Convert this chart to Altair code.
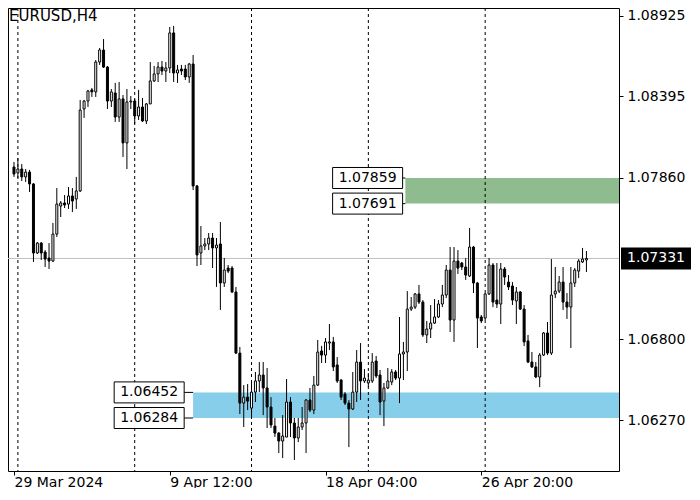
import altair as alt
import pandas as pd

# ---------------- data (EURUSD, H4 candles) ----------------
opens = [1.07931, 1.07892, 1.07918, 1.07866, 1.07898, 1.07820, 1.07367, 1.07432, 1.07373, 1.07334,
         1.07314, 1.07491, 1.07675, 1.07695, 1.07688, 1.07741, 1.07721, 1.07774, 1.08312, 1.08364,
         1.08437, 1.08424, 1.08620, 1.08699, 1.08587, 1.08364, 1.08417, 1.08259, 1.08378, 1.08089,
         1.08358, 1.08364, 1.08266, 1.08325, 1.08233, 1.08345, 1.08496, 1.08542, 1.08587, 1.08561,
         1.08581, 1.08811, 1.08548, 1.08574, 1.08574, 1.08522, 1.08607, 1.07807, 1.07367, 1.07413,
         1.07426, 1.07465, 1.07400, 1.07426, 1.07170, 1.07268, 1.07268, 1.07111, 1.06710, 1.06382,
         1.06421, 1.06349, 1.06454, 1.06527, 1.06566, 1.06481, 1.06356, 1.06231, 1.06185, 1.06133,
         1.06159, 1.06389, 1.06251, 1.06153, 1.06225, 1.06251, 1.06402, 1.06336, 1.06500, 1.06724,
         1.06697, 1.06776, 1.06783, 1.06632, 1.06533, 1.06441, 1.06382, 1.06343, 1.06454, 1.06651,
         1.06527, 1.06514, 1.06527, 1.06658, 1.06566, 1.06395, 1.06481, 1.06520, 1.06586, 1.06546,
         1.06704, 1.06717, 1.06999, 1.07012, 1.07098, 1.07045, 1.06829, 1.06868, 1.06907, 1.06947,
         1.07032, 1.07091, 1.07255, 1.06927, 1.07314, 1.07301, 1.07275, 1.07216, 1.07406, 1.07170,
         1.06947, 1.06940, 1.07098, 1.07288, 1.07058, 1.07032, 1.07262, 1.07176, 1.07150, 1.07052,
         1.07111, 1.06999, 1.06790, 1.06651, 1.06619, 1.06553, 1.06697, 1.06842, 1.06710, 1.07098,
         1.07117, 1.07176, 1.07045, 1.07012, 1.07170, 1.07248, 1.07308, 1.07321]
highs = [1.07964, 1.07990, 1.07951, 1.07918, 1.07912, 1.07825, 1.07439, 1.07439, 1.07386, 1.07432,
         1.07564, 1.07793, 1.07708, 1.07747, 1.07800, 1.07793, 1.07866, 1.08371, 1.08371, 1.08437,
         1.08450, 1.08633, 1.08712, 1.08771, 1.08594, 1.08443, 1.08483, 1.08489, 1.08404, 1.08443,
         1.08397, 1.08378, 1.08437, 1.08384, 1.08351, 1.08620, 1.08594, 1.08620, 1.08627, 1.08620,
         1.08850, 1.08857, 1.08601, 1.08601, 1.08601, 1.08614, 1.08666, 1.07813, 1.07544, 1.07465,
         1.07498, 1.07498, 1.07465, 1.07570, 1.07334, 1.07288, 1.07281, 1.07144, 1.06750, 1.06500,
         1.06507, 1.06533, 1.06586, 1.06651, 1.06651, 1.06612, 1.06421, 1.06284, 1.06192, 1.06303,
         1.06540, 1.06421, 1.06284, 1.06284, 1.06356, 1.06408, 1.06481, 1.06560, 1.06796, 1.06757,
         1.06809, 1.06901, 1.06816, 1.06684, 1.06540, 1.06454, 1.06402, 1.06586, 1.06730, 1.06776,
         1.06605, 1.06579, 1.06710, 1.06691, 1.06599, 1.06514, 1.06612, 1.06605, 1.06599, 1.06947,
         1.06783, 1.07117, 1.07078, 1.07104, 1.07157, 1.07058, 1.06921, 1.07025, 1.07065, 1.07058,
         1.07157, 1.07288, 1.07406, 1.07406, 1.07386, 1.07308, 1.07334, 1.07531, 1.07413, 1.07176,
         1.06960, 1.07104, 1.07334, 1.07301, 1.07301, 1.07301, 1.07275, 1.07222, 1.07176, 1.07144,
         1.07117, 1.07025, 1.06829, 1.06717, 1.06651, 1.06710, 1.06848, 1.06914, 1.07327, 1.07275,
         1.07216, 1.07275, 1.07104, 1.07275, 1.07268, 1.07327, 1.07400, 1.07380]
lows = [1.07866, 1.07859, 1.07839, 1.07833, 1.07767, 1.07308, 1.07360, 1.07321, 1.07275, 1.07262,
        1.07308, 1.07472, 1.07603, 1.07662, 1.07656, 1.07636, 1.07656, 1.07767, 1.08253, 1.08325,
        1.08391, 1.08391, 1.08601, 1.08581, 1.08312, 1.08325, 1.08227, 1.08227, 1.07997, 1.07918,
        1.08312, 1.08213, 1.08240, 1.08227, 1.08213, 1.08345, 1.08489, 1.08489, 1.08535, 1.08489,
        1.08548, 1.08489, 1.08483, 1.08535, 1.08502, 1.08483, 1.07780, 1.07281, 1.07288, 1.07386,
        1.07386, 1.07268, 1.07144, 1.06993, 1.07144, 1.07235, 1.07104, 1.06705, 1.06310, 1.06225,
        1.06336, 1.06290, 1.06389, 1.06454, 1.06303, 1.06218, 1.06218, 1.06159, 1.06054, 1.06021,
        1.06159, 1.06159, 1.06008, 1.06126, 1.06205, 1.06054, 1.06323, 1.06310, 1.06494, 1.06645,
        1.06645, 1.06730, 1.06592, 1.06514, 1.06402, 1.06369, 1.06093, 1.06336, 1.06389, 1.06402,
        1.06514, 1.06487, 1.06514, 1.06546, 1.06303, 1.06231, 1.06474, 1.06500, 1.06533, 1.06382,
        1.06533, 1.06592, 1.06986, 1.06999, 1.07032, 1.06816, 1.06776, 1.06809, 1.06901, 1.06940,
        1.07012, 1.07071, 1.06848, 1.06783, 1.07229, 1.07255, 1.07190, 1.07209, 1.07104, 1.06743,
        1.06907, 1.06927, 1.07091, 1.07012, 1.07006, 1.06901, 1.07157, 1.07124, 1.07025, 1.06901,
        1.06993, 1.06756, 1.06645, 1.06612, 1.06546, 1.06487, 1.06691, 1.06697, 1.06697, 1.07071,
        1.07104, 1.06993, 1.06934, 1.06743, 1.07144, 1.07203, 1.07301, 1.07242]
closes = [1.07885, 1.07918, 1.07866, 1.07898, 1.07820, 1.07367, 1.07432, 1.07367, 1.07327, 1.07314,
          1.07491, 1.07688, 1.07695, 1.07682, 1.07741, 1.07708, 1.07774, 1.08305, 1.08364, 1.08430,
          1.08424, 1.08620, 1.08699, 1.08587, 1.08364, 1.08424, 1.08259, 1.08378, 1.08089, 1.08358,
          1.08364, 1.08266, 1.08325, 1.08233, 1.08345, 1.08496, 1.08542, 1.08587, 1.08561, 1.08581,
          1.08811, 1.08548, 1.08568, 1.08561, 1.08522, 1.08607, 1.07807, 1.07354, 1.07413, 1.07426,
          1.07465, 1.07400, 1.07419, 1.07170, 1.07255, 1.07248, 1.07111, 1.06710, 1.06382, 1.06421,
          1.06395, 1.06454, 1.06527, 1.06566, 1.06481, 1.06356, 1.06238, 1.06185, 1.06133, 1.06166,
          1.06389, 1.06251, 1.06153, 1.06225, 1.06251, 1.06402, 1.06336, 1.06500, 1.06717, 1.06697,
          1.06783, 1.06783, 1.06619, 1.06527, 1.06421, 1.06382, 1.06343, 1.06454, 1.06651, 1.06527,
          1.06546, 1.06533, 1.06651, 1.06560, 1.06389, 1.06481, 1.06527, 1.06586, 1.06546, 1.06704,
          1.06717, 1.06999, 1.07012, 1.07098, 1.07045, 1.06829, 1.06868, 1.06907, 1.06947, 1.07032,
          1.07091, 1.07255, 1.06927, 1.07314, 1.07268, 1.07275, 1.07222, 1.07406, 1.07170, 1.06940,
          1.06921, 1.07098, 1.07288, 1.07045, 1.07032, 1.07262, 1.07209, 1.07144, 1.07058, 1.07111,
          1.06999, 1.06783, 1.06651, 1.06619, 1.06553, 1.06697, 1.06842, 1.06710, 1.07091, 1.07117,
          1.07176, 1.07045, 1.07012, 1.07170, 1.07255, 1.07314, 1.07327, 1.07331]

symbol = "EURUSD,H4"
week_separator_bars = [1, 31, 61, 91, 121]
x_tick_bars = [0, 40, 80, 120]
x_tick_labels = ["29 Mar 2024", "9 Apr 12:00", "18 Apr 04:00", "26 Apr 20:00"]
y_tick_values = [1.08925, 1.08395, 1.07860, 1.06800, 1.06270]
current_price = 1.07331

zone_names = ["upper", "lower"]
zone_start_bar = [100.5, 46.0]
zone_top = [1.07859, 1.06452]
zone_bottom = [1.07691, 1.06284]
zone_label_bar = [99.8, 43.7]
zone_colors = ["#8FBC8F", "#87CEEB"]

# ---------------- tables ----------------
n = len(opens)
candles = pd.DataFrame({"bar": list(range(n)), "open": opens, "high": highs,
                        "low": lows, "close": closes})
zones = pd.DataFrame({"name": zone_names, "start": zone_start_bar, "top": zone_top,
                      "bottom": zone_bottom, "end": [1000, 1000]})
zone_labels = pd.DataFrame({
    "anchor": [zone_label_bar[0], zone_label_bar[0], zone_label_bar[1], zone_label_bar[1]],
    "start": [zone_start_bar[0], zone_start_bar[0], zone_start_bar[1], zone_start_bar[1]],
    "price": [zone_top[0], zone_bottom[0], zone_top[1], zone_bottom[1]],
})
zone_labels["label"] = zone_labels["price"].map(lambda v: f"{v:.5f}")
seps = pd.DataFrame({"bar": week_separator_bars})
cur = pd.DataFrame({"price": [current_price], "label": [f"{current_price:.5f}"]})
title_df = pd.DataFrame({"t": [symbol]})

FONT = "DejaVu Sans"
xs = alt.Scale(domain=[-0.2526, 154.08], nice=False, zero=False)
ys = alt.Scale(domain=[1.059362, 1.089746], nice=False, zero=False)

label_expr = " : ".join(f"datum.value == {b} ? '{t}'" for b, t in zip(x_tick_bars, x_tick_labels)) + " : ''"
x_axis = alt.Axis(values=x_tick_bars, labelExpr=label_expr, title=None, grid=False, domain=False,
                  ticks=True, tickSize=4, tickColor="black", tickWidth=1,
                  labelAlign="left", labelBaseline="alphabetic", labelPadding=11,
                  labelFont=FONT, labelFontSize=14, labelColor="black",
                  labelFlush=False, labelOverlap=False)
y_axis = alt.Axis(orient="right", values=y_tick_values, format=".5f", title=None, grid=False,
                  domain=False, ticks=True, tickSize=4, tickColor="black", tickWidth=1,
                  labelFont=FONT, labelFontSize=14, labelColor="black", labelPadding=4,
                  labelOverlap=False, labelFlush=False)


def X(field):
    return alt.X(f"{field}:Q", scale=xs, axis=x_axis)


def Y(field):
    return alt.Y(f"{field}:Q", scale=ys, axis=y_axis)


zone_layer = alt.Chart(zones).mark_rect(clip=True).encode(
    x=X("start"), x2="end:Q", y=Y("top"), y2="bottom:Q",
    color=alt.Color("name:N", scale=alt.Scale(domain=zone_names, range=zone_colors), legend=None),
)

sep_layer = alt.Chart(seps).mark_rule(color="black", strokeWidth=1, strokeDash=[3, 3]).encode(
    x=X("bar")
)

price_line = alt.Chart(cur).mark_rule(color="#C0C0C0", strokeWidth=1).encode(y=Y("price"))

wicks = alt.Chart(candles).mark_rule(color="black", strokeWidth=1, clip=True).encode(
    x=X("bar"), y=Y("low"), y2="high:Q"
)

bodies = alt.Chart(candles).mark_bar(width=2, stroke="black", strokeWidth=1, clip=True).encode(
    x=X("bar"), y=Y("open"), y2="close:Q",
    fill=alt.condition("datum.close >= datum.open", alt.value("white"), alt.value("black")),
)

connectors = alt.Chart(zone_labels).mark_rule(color="black", strokeWidth=1).encode(
    x=X("anchor"), x2="start:Q", y=Y("price")
)

BOX70 = "M-1,-0.3L1,-0.3L1,0.3L-1,0.3Z"
label_boxes = alt.Chart(zone_labels).mark_point(
    shape=BOX70, size=4900, filled=True, fill="white", stroke="black", strokeWidth=1,
    opacity=1, xOffset=-35
).encode(x=X("anchor"), y=Y("price"))

label_text = alt.Chart(zone_labels).mark_text(
    font=FONT, fontSize=14, color="black", align="center", baseline="middle", xOffset=-35
).encode(x=X("anchor"), y=Y("price"), text="label:N")

BOX68 = "M-1,-0.294L1,-0.294L1,0.294L-1,0.294Z"
cur_box = alt.Chart(cur).mark_point(
    shape=BOX68, size=4624, filled=True, fill="black", stroke="black", opacity=1
).encode(x=alt.value(648), y=Y("price"))

cur_text = alt.Chart(cur).mark_text(
    font=FONT, fontSize=14, color="white", align="center", baseline="middle"
).encode(x=alt.value(648), y=Y("price"), text="label:N")

title_layer = alt.Chart(title_df).mark_text(
    font=FONT, fontSize=15, color="black", align="left", baseline="top"
).encode(x=alt.value(1), y=alt.value(1), text="t:N")

chart = alt.layer(
    zone_layer, sep_layer, price_line, wicks, bodies, connectors,
    label_boxes, label_text, cur_box, cur_text, title_layer
).properties(
    width=611, height=463,
    padding={"left": 0, "top": 0, "right": 73, "bottom": 17},
    autosize=alt.AutoSizeParams(type="none"),
    background="white",
).configure_view(stroke="black", strokeWidth=1)

chart.save("out.html", embed_options={"renderer": "svg", "actions": False})
